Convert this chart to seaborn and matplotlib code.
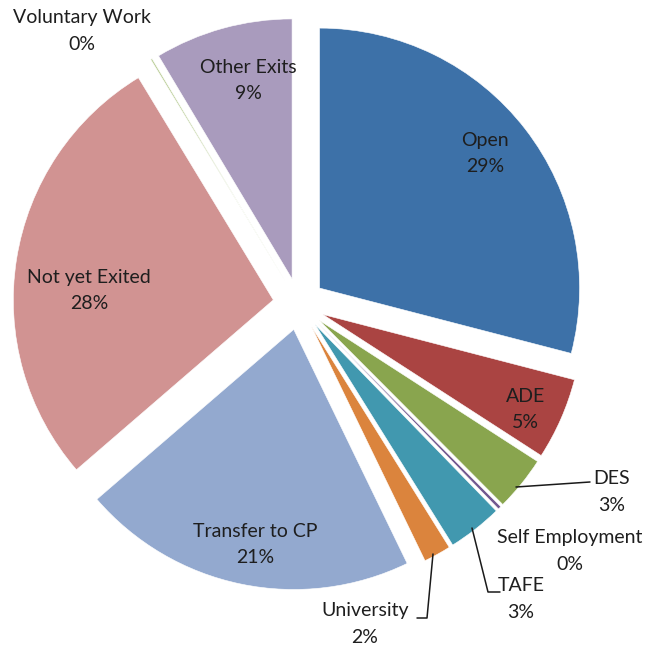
import matplotlib
matplotlib.use("Agg")
import matplotlib.pyplot as plt
import seaborn as sns
import numpy as np

sns.set_theme(style="white")
plt.rcParams['font.family'] = ['Lato', 'DejaVu Sans']

categories = ["Open", "ADE", "DES", "Self Employment", "TAFE", "University",
              "Transfer to CP", "Not yet Exited", "Voluntary Work", "Other Exits"]
values = [29.1, 5.1, 3.4, 0.2, 3.4, 1.7, 20.9, 27.7, 0.1, 8.6]
colors = ["#3D71A8", "#AA4442", "#89A54E", "#71588F", "#4198AF", "#DB843D",
          "#93A9CF", "#D19392", "#B9CD96", "#A99BBD"]

fig = plt.figure(figsize=(6.48, 6.48), dpi=100)
ax = fig.add_axes([0, 0, 1, 1])
R = 260.0
cx, cy = 299.0, 304.0

wedges, _ = ax.pie(values, colors=colors, startangle=90, counterclock=False,
                   explode=[0.1] * len(values), radius=1.0,
                   wedgeprops=dict(linewidth=0.4, edgecolor='white'))
ax.set_xlim(-cx / R, (648 - cx) / R)
ax.set_ylim(-(648 - cy) / R, cy / R)
ax.set_aspect('equal')
ax.axis('off')

total = sum(values)
labels = [f"{c}\n{round(v / total * 100):.0f}%" for c, v in zip(categories, values)]
txtcol = "#1E1E1E"
fs = 14
ls = 1.65

def px(x, y):
    return ((x - cx) / R, (cy - y) / R)

# inside labels: distance from exploded centre along the bisector
inside = {"Open": (0.82, 1.5), "ADE": (0.86, -1.5), "Transfer to CP": (0.84, 1.5),
          "Not yet Exited": (0.71, 6.0), "Other Exits": (0.78, -3.0)}
for w, c, lab in zip(wedges, categories, labels):
    if c in inside:
        d, dth = inside[c]
        th = np.deg2rad((w.theta1 + w.theta2) / 2 + dth)
        x0, y0 = w.center
        ax.text(x0 + d * np.cos(th), y0 + d * np.sin(th), lab, ha='center', va='center',
                fontsize=fs, color=txtcol, linespacing=ls)

# outside labels with leader lines (positions in pixels)
outside = {
    "Voluntary Work": ((82, 31), None),
    "DES": ((612, 492), [(516, 487), (590, 482)]),
    "Self Employment": ((570, 551), None),
    "TAFE": ((521, 599), [(472, 528), (488, 592), (500, 592)]),
    "University": ((365, 624), [(433, 554), (427, 618), (417, 618)]),
}
for c, lab in zip(categories, labels):
    if c in outside:
        pos, line = outside[c]
        ax.text(*px(*pos), lab, ha='center', va='center', fontsize=fs,
                color=txtcol, linespacing=ls)
        if line:
            pts = np.array([px(*p) for p in line])
            ax.plot(pts[:, 0], pts[:, 1], color="#1a1a1a", lw=1.1)

fig.savefig("out.png", dpi=100, facecolor='white')
